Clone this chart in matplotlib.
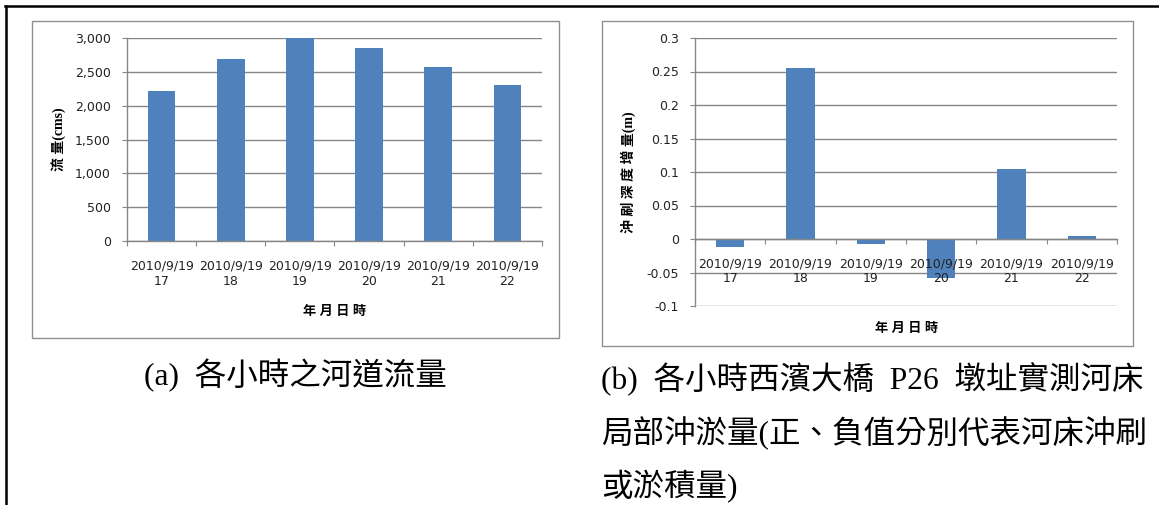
import numpy as np
import matplotlib
matplotlib.use('Agg')
import matplotlib.pyplot as plt
from matplotlib.patches import Rectangle
from matplotlib.lines import Line2D

# data
hours = ['17', '18', '19', '20', '21', '22']
date = '2010/9/19'
flow = [2210, 2685, 2995, 2845, 2565, 2300]          # cms
scour = [-0.012, 0.255, -0.0075, -0.0585, 0.105, 0.004]  # m

flow_ticks = [0, 500, 1000, 1500, 2000, 2500, 3000]
scour_ticks = [-0.1, -0.05, 0, 0.05, 0.1, 0.15, 0.2, 0.25, 0.3]

W, H = 1159, 505
BAR = '#4F81BD'
GRID = '#868686'
TXT = '#222222'
cjk = ['Liberation Serif', 'Noto Sans CJK TC']

fig = plt.figure(figsize=(W / 100, H / 100), dpi=100)
fig.patch.set_facecolor('white')


def px(x0, y0, x1, y1):
    # pixel box (top-left origin) -> figure fraction rect
    return [x0 / W, 1 - y1 / H, (x1 - x0) / W, (y1 - y0) / H]


def frame(x0, y0, x1, y1):
    r = Rectangle((x0 / W, 1 - y1 / H), (x1 - x0) / W, (y1 - y0) / H,
                  transform=fig.transFigure, fill=False, ec='#8f8f8f', lw=1.0)
    fig.patches.append(r)


def excel_bars(ax, vals, ticks, ticklabels):
    n = len(vals)
    x = np.arange(n)
    # grid under the bars, axis (and its labels) over them
    for t in ticks:
        ax.axhline(t, color=GRID, lw=1.0, zorder=1)
    ax.bar(x, vals, width=0.4, color=BAR, zorder=1.5)
    ax.set_axisbelow(False)
    ax.set_xlim(-0.5, n - 0.5)
    ax.set_ylim(ticks[0], ticks[-1])
    ax.set_yticks(ticks)
    ax.set_yticklabels(ticklabels)
    for s in ['top', 'right']:
        ax.spines[s].set_visible(False)
    for s in ['left', 'bottom']:
        ax.spines[s].set_color(GRID)
        ax.spines[s].set_linewidth(1.0)
    # category boundaries get the tick marks, centres get the labels
    ax.set_xticks(np.arange(n + 1) - 0.5)
    ax.set_xticklabels([])
    ax.set_xticks(x, minor=True)
    ax.set_xticklabels([date + '\n' + h for h in hours], minor=True, linespacing=1.3)
    ax.tick_params(axis='x', which='major', length=3.6, color=GRID, direction='out')
    ax.tick_params(axis='x', which='minor', length=0, pad=13, labelsize=9,
                   labelcolor=TXT)
    ax.tick_params(axis='y', length=3.6, color=GRID, pad=8, labelsize=9,
                   labelcolor=TXT)
    ax.set_facecolor('none')


# (a) flow
frame(32, 21, 559, 338)
ax1 = fig.add_axes(px(127, 38, 542, 241))
excel_bars(ax1, flow, flow_ticks, ['{:,}'.format(t) for t in flow_ticks])
fig.text(59 / W, 1 - 139.5 / H, '流 量(cms)', rotation=90, ha='center', va='center',
         fontsize=10, fontweight='bold', family=cjk)
fig.text(335 / W, 1 - 312 / H, '年 月 日 時', ha='center', va='center',
         fontsize=9.5, fontweight='bold', family=cjk)

# (b) scour depth change
frame(602, 21, 1133, 346)
ax2 = fig.add_axes(px(695, 38, 1117, 306))
excel_bars(ax2, scour, scour_ticks, ['{:g}'.format(t) for t in scour_ticks])
ax2.spines['bottom'].set_position(('data', 0))
fig.text(628 / W, 1 - 172 / H, '沖 刷 深 度 增 量(m)', rotation=90, ha='center', va='center',
         fontsize=10, fontweight='bold', family=cjk)
fig.text(907 / W, 1 - 329 / H, '年 月 日 時', ha='center', va='center',
         fontsize=9.5, fontweight='bold', family=cjk)

# captions
fig.text(295 / W, 1 - 376 / H, '(a)  各小時之河道流量', ha='center', va='center',
         fontsize=22.7, family=cjk, color='black')
cap_b = ['(b)  各小時西濱大橋  P26  墩址實測河床',
         '局部沖淤量(正、負值分別代表河床沖刷',
         '或淤積量)']
for i, line in enumerate(cap_b):
    fig.text(601 / W, 1 - (379 + 54 * i) / H, line, ha='left', va='center',
             fontsize=22.7, family=cjk, color='black')

# page border, left and top
fig.lines.append(Line2D([5.5 / W, 5.5 / W], [0, 1 - 5.5 / H], transform=fig.transFigure,
                        color='black', lw=1.8))
fig.lines.append(Line2D([4.5 / W, 1], [1 - 5.5 / H, 1 - 5.5 / H], transform=fig.transFigure,
                        color='black', lw=1.8))

fig.savefig('out.png', dpi=100)
